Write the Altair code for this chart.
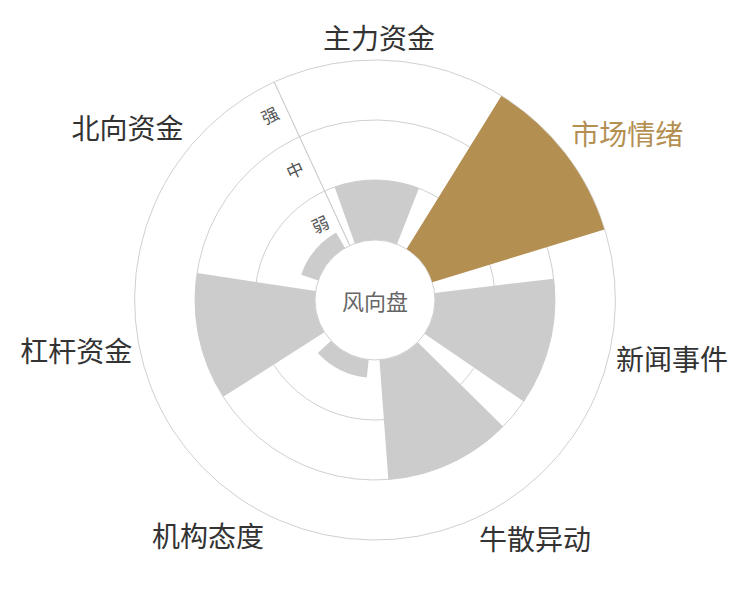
import math
import altair as alt
import pandas as pd

# ---- data ----
categories = ["主力资金", "市场情绪", "新闻事件", "牛散异动", "机构态度", "杠杆资金", "北向资金"]
strength = [1.0, 3.0, 2.0, 2.0, 0.3, 2.0, 0.3]
highlight = ["否", "是", "否", "否", "否", "否", "否"]
levels = ["弱", "中", "强"]
level_pos = [0.5, 1.5, 2.5]
rings = [0, 1, 2, 3]
center_title = ["风向盘"]

n = len(categories)
GOLD = "#b48f52"
GRAY = "#cccccc"
GRID = "#d0d0d0"
FONT = "Noto Sans CJK SC"
ROT = math.radians(0.9)  # slight clockwise start offset of the polar layout

df = pd.DataFrame({"cat": categories, "idx": list(range(n)), "v": strength, "hl": highlight})
rings_df = pd.DataFrame({"r": rings})
levels_df = pd.DataFrame({"lvl": levels, "pos": level_pos})
center_df = pd.DataFrame({"t": center_title})

theta_scale = alt.Scale(domain=[0, n], range=[ROT, 2 * math.pi + ROT])
radius_scale = alt.Scale(type="linear", domain=[0, 3], range=[60, 240], zero=False)

# concentric grid circles
ring_layer = alt.Chart(rings_df).mark_arc(stroke=GRID, strokeWidth=1, fillOpacity=0).encode(
    theta=alt.Theta(datum=0, type="quantitative", scale=theta_scale, stack=False),
    theta2=alt.Theta2(datum=n),
    radius=alt.Radius("r:Q", scale=radius_scale, stack=False),
    radius2=alt.value(0),
)

# radius axis line (on the boundary before the first category)
axis_layer = alt.Chart(center_df).mark_arc(stroke=GRID, strokeWidth=1, fillOpacity=0).encode(
    theta=alt.Theta(datum=-0.5, type="quantitative", scale=theta_scale, stack=False),
    theta2=alt.Theta2(datum=-0.5),
    radius=alt.Radius(datum=3, type="quantitative", scale=radius_scale, stack=False),
    radius2=alt.Radius2(datum=0),
)

# bars
bar_layer = alt.Chart(df).transform_calculate(
    t0="datum.idx - 0.4", t1="datum.idx + 0.4", base="0"
).mark_arc(strokeWidth=0).encode(
    theta=alt.Theta("t0:Q", scale=theta_scale, stack=False),
    theta2="t1:Q",
    radius=alt.Radius("v:Q", scale=radius_scale, stack=False),
    radius2="base:Q",
    color=alt.condition(alt.datum.hl == "是", alt.value(GOLD), alt.value(GRAY)),
)

# level labels along the radius axis
level_layer = alt.Chart(levels_df).mark_text(
    angle=360 - 180 / n + math.degrees(ROT), dx=-18, align="center", baseline="middle",
    fontSize=17, font=FONT, color="#555555",
).encode(
    theta=alt.Theta(datum=-0.5, type="quantitative", scale=theta_scale, stack=False),
    radius=alt.Radius("pos:Q", scale=radius_scale, stack=False),
    text="lvl:N",
)

# category labels
s_expr = "sin(datum.idx * 2 * PI / %d)" % n
c_expr = "cos(datum.idx * 2 * PI / %d)" % n
align_expr = "abs(%s) < 0.3 ? 'center' : (%s > 0 ? 'left' : 'right')" % (s_expr, s_expr)
base_expr = "abs(%s) < 0.3 ? 'middle' : (%s > 0 ? 'bottom' : 'top')" % (c_expr, c_expr)

label_layer = alt.Chart(df).mark_text(
    fontSize=28, font=FONT, radiusOffset=8, dy=3,
    align=alt.ExprRef(align_expr), baseline=alt.ExprRef(base_expr),
).encode(
    theta=alt.Theta("idx:Q", scale=theta_scale, stack=False),
    radius=alt.Radius(datum=3, type="quantitative", scale=radius_scale, stack=False),
    text="cat:N",
    color=alt.condition(alt.datum.hl == "是", alt.value(GOLD), alt.value("#333333")),
)

center_layer = alt.Chart(center_df).mark_text(
    fontSize=22, font=FONT, color="#666666", align="center", baseline="middle", dy=3
).encode(text="t:N")

chart = alt.layer(ring_layer, axis_layer, bar_layer, level_layer, label_layer, center_layer).properties(
    width=734, height=584, padding=0, autosize="none", background="white"
).configure_view(strokeWidth=0)

chart.save("out.html", embed_options={"renderer": "svg", "actions": False})
